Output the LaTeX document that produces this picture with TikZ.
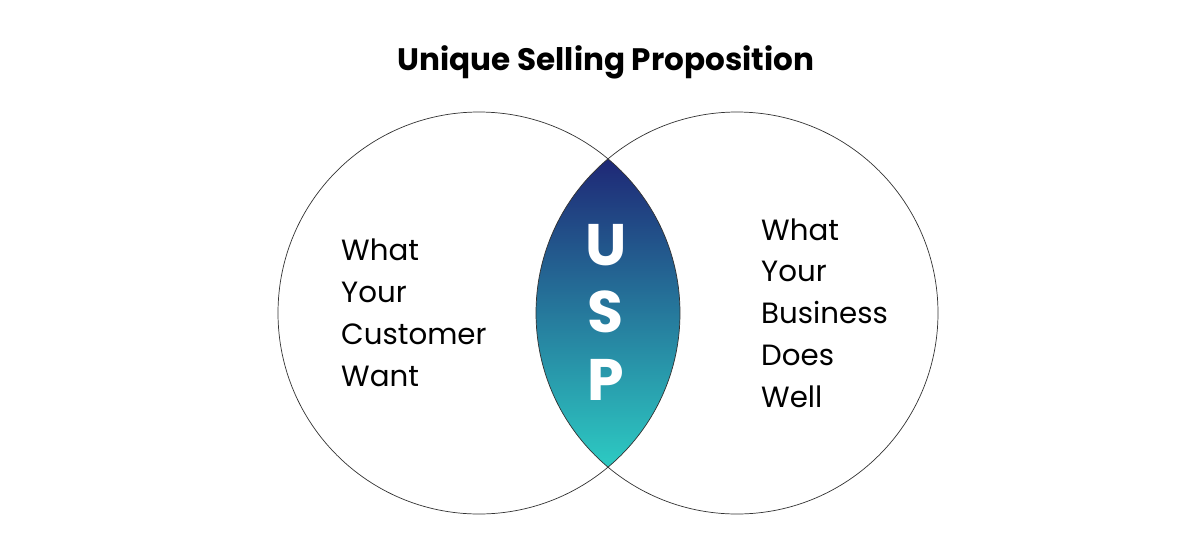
\documentclass[tikz,border=0pt]{standalone}
\usepackage{fontspec}
\setmainfont{Poppins}
\definecolor{uspnavy}{HTML}{1E2675}
\definecolor{uspteal}{HTML}{2DCBC3}
\begin{document}
\begin{tikzpicture}[x=0.03cm,y=0.03cm,
    ring/.style={black!80,line width=0.6pt},
    words/.style={anchor=base west,inner sep=0pt,font=\fontsize{25}{30}\selectfont},
    letter/.style={anchor=base,inner sep=0pt,text=white,font=\fontsize{50}{60}\selectfont\bfseries}]
            \useasboundingbox (0,0) rectangle (1200,-550);
            \node[inner sep=0pt,anchor=base,font=\fontsize{26.5}{30}\selectfont\bfseries] (title) at (606,-70) {Unique Selling Proposition};
            \coordinate (lc) at (479,-313);
            \coordinate (rc) at (737,-313);
            % lens where both circles meet
            \begin{scope}
                \clip (lc) circle (201);
                \clip (rc) circle (201);
                \shade[top color=uspnavy,bottom color=uspteal] (530,-156) rectangle (690,-468);
            \end{scope}
            \draw[ring] (lc) circle (201);
            \draw[ring] (rc) circle (201);
            \foreach \w [count=\i] in {What,Your,Customer,Want}
                \node[words] (cust-\i) at (341,-260-42*\i+42) {\w};
            \foreach \w [count=\i] in {What,Your,Business,Does,Well}
                \node[words] (biz-\i) at (761,-240-41.8*\i+41.8) {\w};
            \foreach \l [count=\i] in {U,S,P}
                \node[letter] (usp-\i) at (606,-265-67.5*\i+67.5) {\l};
        \end{tikzpicture}
\end{document}
